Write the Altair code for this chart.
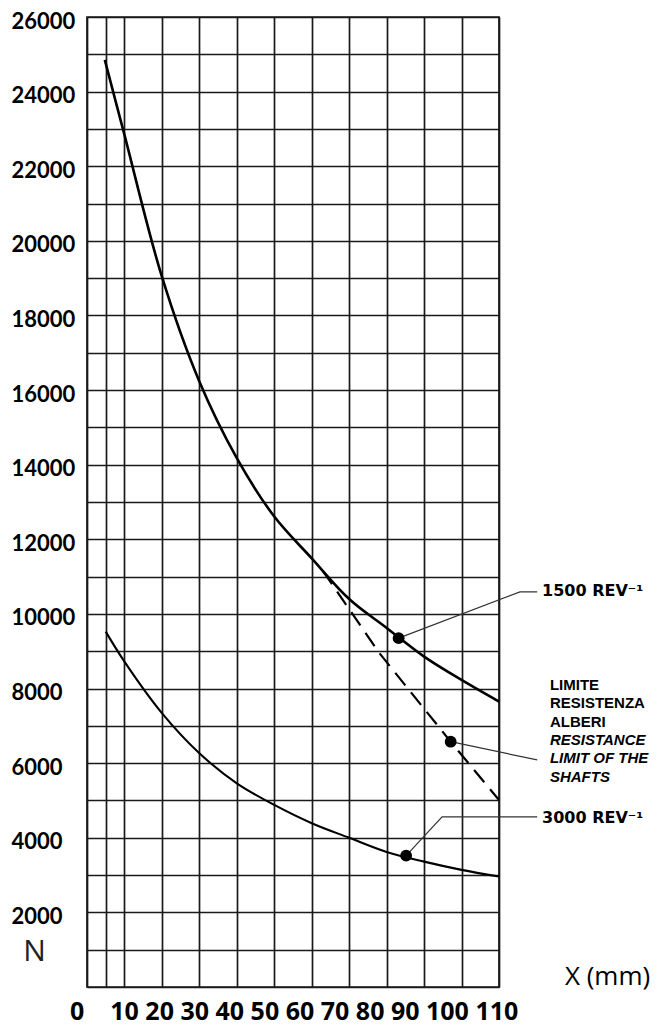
import altair as alt
import pandas as pd

# ---- data ----
x_upper = [4.75, 10, 20, 30, 40, 50, 60, 70, 80, 90, 100, 110]
y_upper = [24850, 22840, 19040, 16230, 14175, 12610, 11490, 10400, 9625, 8855, 8230, 7650]

x_lower = [5, 10, 20, 30, 40, 50, 60, 70, 80, 90, 100, 110]
y_lower = [9525, 8720, 7340, 6265, 5460, 4880, 4390, 4000, 3620, 3360, 3140, 2960]

x_limit = [63.0, 78.1, 97.1, 110]
y_limit = [11150, 8945, 6575, 5013]

dot_x = [83.2, 97.1, 85.2]
dot_y = [9350, 6575, 3520]

x_grid = [0, 5, 10, 20, 30, 40, 50, 60, 70, 80, 90, 100, 110]
y_grid = list(range(0, 26001, 1000))
x_tick_labels = ["0", "10", "20", "30", "40", "50", "60", "70", "80", "90", "100", "110"]

leader_id = ["a", "a", "a", "b", "b", "c", "c", "c"]
leader_x = [83.2, 115.6, 120.2, 97.1, 120.2, 85.2, 94.8, 120.2]
leader_y = [9350, 10590, 10590, 6575, 6086, 3520, 4558, 4558]

rev_labels = ["1500 REV\u207b\u00b9", "3000 REV\u207b\u00b9"]
rev_x = [121.5, 121.5]
rev_y = [10617, 4531]

limit_lines = ["LIMITE", "RESISTENZA", "ALBERI", "RESISTANCE", "LIMIT OF THE", "SHAFTS"]
limit_italic = [False, False, False, True, True, True]
limit_x = 123.6
limit_y = [8097, 7605, 7114, 6622, 6131, 5640]

# ---- tables ----
curves = pd.DataFrame({
    "x": x_upper + x_lower,
    "y": y_upper + y_lower,
    "s": ["1500"] * len(x_upper) + ["3000"] * len(x_lower),
    "o": list(range(len(x_upper))) + list(range(len(x_lower))),
})
limit_df = pd.DataFrame({"x": x_limit, "y": y_limit, "o": list(range(len(x_limit)))})
dots_df = pd.DataFrame({"x": dot_x, "y": dot_y})
lead_df = pd.DataFrame({"id": leader_id, "x": leader_x, "y": leader_y, "o": list(range(len(leader_x)))})
rev_df = pd.DataFrame({"t": rev_labels, "x": rev_x, "y": rev_y})
lim_df = pd.DataFrame({"t": limit_lines, "it": limit_italic, "x": [limit_x] * len(limit_lines), "y": limit_y})
NB = "\u00a0"
tick_df = pd.DataFrame({"t": [x_tick_labels[0] + NB * 4 + NB.join(x_tick_labels[1:])]})

GRID = "#1a1a1a"
xs = alt.Scale(domain=[0, 110], nice=False, zero=False)
ys = alt.Scale(domain=[0, 26000], nice=False, zero=False)

x_axis = alt.Axis(
    values=x_grid, labels=False, ticks=False, tickSize=0, domain=False,
    grid=True, gridColor=GRID, gridWidth=1.7, gridOpacity=1,
    title="X (mm)", titleX=520, titleY=-11, titleAlign="center", titleBaseline="middle",
    titleFont="Open Sans", titleFontSize=26, titleFontWeight=500, titleColor="black",
)
y_axis = alt.Axis(
    values=y_grid, labelExpr="datum.value % 2000 == 0 && datum.value > 0 ? format(datum.value, 'd') : ''",
    ticks=False, tickSize=0, domain=False, grid=True, gridColor=GRID, gridWidth=1.7, gridOpacity=1,
    labelAlign="left", labelPadding=76, labelBaseline="middle", labelOffset=4,
    labelFont="Lato", labelFontWeight="bold", labelFontSize=22, labelColor="black",
    labelOverlap=False, labelBound=False, labelFlush=False,
    title="N", titleAngle=0, titleX=-53, titleY=934, titleAlign="center", titleBaseline="middle",
    titleFont="Open Sans", titleFontSize=30, titleFontWeight="normal", titleColor="#222",
)

X = alt.X("x:Q", scale=xs, axis=x_axis)
Y = alt.Y("y:Q", scale=ys, axis=y_axis)

upper = alt.Chart(curves).transform_filter("datum.s == '1500'").mark_line(
    color="black", strokeWidth=2.6, interpolate="catmull-rom"
).encode(x=X, y=Y, order="o:Q")
lower = alt.Chart(curves).transform_filter("datum.s == '3000'").mark_line(
    color="black", strokeWidth=2.1, interpolate="catmull-rom"
).encode(x=X, y=Y, order="o:Q")
limit = alt.Chart(limit_df).mark_line(
    color="black", strokeWidth=2.2, strokeDash=[16, 9]
).encode(x=X, y=Y, order="o:Q")
leaders = alt.Chart(lead_df).mark_line(color="#333", strokeWidth=1.2).encode(
    x=X, y=Y, detail="id:N", order="o:Q"
)
dots = alt.Chart(dots_df).mark_circle(color="black", size=140, opacity=1).encode(x=X, y=Y)
rev_text = alt.Chart(rev_df).mark_text(
    align="left", baseline="middle", font="DejaVu Sans", fontWeight="bold", fontSize=16, color="black"
).encode(x=X, y=Y, text="t:N")
lim_plain = alt.Chart(lim_df).transform_filter("!datum.it").mark_text(
    align="left", baseline="middle", font="Liberation Sans", fontWeight="bold", fontSize=15, color="black"
).encode(x=X, y=Y, text="t:N")
lim_ital = alt.Chart(lim_df).transform_filter("datum.it").mark_text(
    align="left", baseline="middle", font="Liberation Sans", fontWeight="bold", fontStyle="italic",
    fontSize=15, color="black"
).encode(x=X, y=Y, text="t:N")
ticks_text = alt.Chart(tick_df).mark_text(
    align="left", baseline="middle", font="Open Sans", fontWeight="bold", fontSize=25, color="black"
).encode(x=alt.value(-17), y=alt.value(995), text="t:N")

chart = alt.layer(
    upper, lower, limit, leaders, dots, rev_text, lim_plain, lim_ital, ticks_text
).properties(
    width=412, height=970,
    padding={"left": 79, "top": 9, "right": 153, "bottom": 45},
    autosize=alt.AutoSizeParams(type="none"),
).configure(
    background="white"
).configure_view(
    stroke=GRID, strokeWidth=1.7
)

chart.save("out.html", embed_options={"renderer": "svg", "actions": False})
